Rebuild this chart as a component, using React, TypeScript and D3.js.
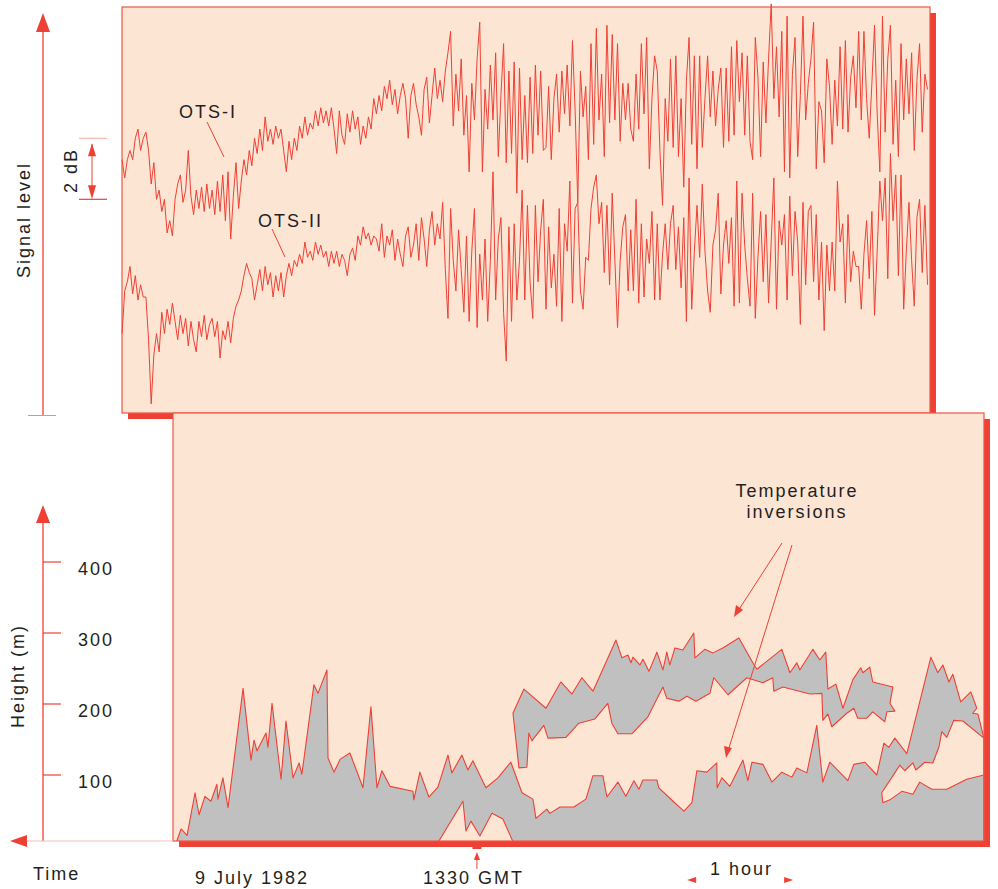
import React from 'react';
import * as d3 from 'd3';

// Time in minutes after midnight, 9 July 1982
const timeDomain: [number, number] = [540, 1105];
const gmtMarkMin = 810; // 13:30 GMT
const hourBracketMin: [number, number] = [929, 989];

// Received signal level (dB) on the two over-the-sea paths, sampled every 1.5 min
const signalStartMin = 609.1;
const signalStepMin = 1.5;
const otsI = [
  8.3, 7.7, 8.3, 8.6, 8.3, 9.0, 9.3, 8.6, 9.0, 9.2, 8.6, 7.5, 8.2, 7.0, 7.3, 6.6, 7.0, 5.9, 6.3, 5.8,
  7.0, 7.5, 7.8, 6.9, 7.3, 8.6, 7.1, 6.5, 7.3, 6.7, 7.4, 6.6, 7.5, 6.7, 7.3, 6.5, 7.6, 6.6, 7.8, 6.3,
  7.9, 5.7, 7.1, 8.2, 6.7, 7.6, 8.3, 7.8, 8.6, 8.1, 9.0, 8.5, 9.3, 8.6, 9.7, 8.9, 9.3, 8.8, 9.4, 9.0,
  9.3, 8.6, 7.9, 8.9, 8.3, 9.0, 8.6, 9.4, 9.0, 9.7, 9.1, 9.5, 9.3, 9.9, 9.4, 10.0, 9.5, 9.9, 9.4, 10.0,
  9.3, 8.5, 9.9, 9.1, 8.8, 9.8, 9.2, 9.9, 9.3, 9.7, 8.8, 9.4, 9.0, 9.7, 9.3, 10.3, 9.8, 10.4, 9.9, 10.7,
  10.3, 10.9, 10.1, 10.6, 9.8, 10.4, 10.8, 10.3, 9.0, 10.4, 10.8, 10.1, 9.7, 9.1, 10.6, 11.0, 9.5, 10.4, 11.3, 10.3,
  10.9, 10.2, 11.2, 11.8, 12.5, 9.4, 11.1, 9.9, 11.6, 9.1, 10.4, 7.9, 10.8, 9.6, 11.6, 12.8, 7.9, 10.6, 9.3, 11.4,
  9.6, 11.8, 8.4, 10.4, 12.1, 8.2, 11.2, 8.5, 11.5, 7.2, 11.3, 8.3, 10.4, 8.2, 11.0, 8.5, 11.4, 9.1, 11.2, 8.6,
  8.7, 10.7, 8.3, 10.3, 11.1, 9.2, 11.2, 9.8, 11.4, 9.4, 12.2, 9.9, 6.9, 11.2, 9.7, 10.7, 8.3, 12.1, 8.8, 12.6,
  9.6, 11.1, 8.4, 12.7, 9.5, 12.4, 9.6, 12.1, 8.9, 10.8, 9.6, 10.8, 9.3, 8.9, 11.1, 9.3, 12.1, 9.8, 12.3, 8.0,
  10.3, 11.7, 11.2, 8.6, 6.8, 10.3, 8.9, 11.6, 8.7, 11.7, 8.4, 10.3, 7.4, 10.9, 12.3, 8.8, 11.7, 8.0, 11.7, 8.7,
  10.3, 11.7, 9.7, 11.2, 9.4, 10.6, 11.3, 8.7, 11.3, 8.9, 12.0, 9.1, 12.2, 10.2, 11.8, 9.1, 11.7, 8.9, 8.3, 12.3,
  11.0, 8.4, 11.5, 9.5, 11.6, 13.4, 10.3, 12.0, 9.7, 12.5, 7.9, 13.0, 7.7, 11.1, 12.3, 8.4, 10.4, 13.0, 9.6, 10.8,
  11.6, 12.8, 8.0, 10.2, 9.9, 8.2, 11.6, 10.7, 8.8, 10.9, 9.4, 12.0, 9.3, 12.2, 9.2, 11.0, 11.7, 10.0, 12.5, 9.6,
  12.5, 10.3, 9.0, 10.8, 12.7, 9.8, 7.9, 13.0, 9.2, 11.6, 12.7, 8.8, 10.9, 8.4, 12.1, 9.6, 11.6, 9.8, 11.8, 8.6,
  10.9, 12.1, 9.2, 11.1, 10.6,
];
const otsII = [
  2.6, 4.0, 4.3, 4.8, 3.9, 4.5, 3.7, 4.2, 3.8, 3.8, 2.4, 0.3, 1.9, 2.6, 2.0, 3.3, 2.6, 3.4, 2.9, 3.6,
  3.0, 2.4, 3.2, 2.6, 3.1, 2.2, 3.0, 2.4, 2.0, 3.0, 2.5, 3.2, 2.4, 2.9, 3.1, 2.5, 3.0, 1.8, 2.7, 2.4,
  3.0, 2.3, 3.1, 3.5, 3.7, 4.0, 4.5, 4.9, 4.6, 4.4, 3.7, 4.2, 4.7, 4.0, 4.8, 4.2, 4.6, 3.8, 4.5, 4.0,
  4.6, 3.8, 4.5, 4.9, 4.5, 5.0, 4.8, 5.2, 4.9, 5.6, 5.1, 5.3, 5.0, 5.6, 5.2, 5.5, 5.1, 5.3, 4.8, 5.3,
  4.9, 5.3, 4.8, 5.2, 5.0, 4.5, 5.2, 5.4, 5.0, 5.8, 5.5, 6.1, 5.7, 5.9, 5.5, 5.8, 5.7, 5.3, 6.2, 5.1,
  5.8, 5.5, 6.0, 5.0, 5.7, 5.2, 4.8, 5.8, 6.1, 5.1, 5.5, 6.2, 5.0, 6.4, 5.7, 4.8, 6.0, 6.6, 5.5, 6.2,
  5.7, 6.9, 4.7, 3.1, 6.7, 5.0, 4.0, 6.0, 4.7, 3.3, 5.8, 3.0, 5.3, 6.7, 2.8, 5.2, 3.7, 5.7, 3.0, 5.0,
  7.9, 3.7, 5.7, 6.4, 3.3, 1.7, 6.1, 3.0, 6.2, 3.7, 5.0, 7.3, 3.7, 6.8, 4.3, 3.1, 6.8, 4.3, 6.0, 7.0,
  3.4, 6.1, 4.1, 5.2, 3.5, 6.7, 3.0, 6.2, 5.3, 7.6, 3.6, 6.7, 6.9, 4.0, 3.4, 5.1, 5.0, 6.7, 7.4, 7.8,
  6.2, 6.9, 4.6, 6.8, 4.2, 7.2, 5.0, 2.8, 5.0, 6.1, 6.5, 4.0, 6.0, 4.0, 7.0, 3.6, 6.2, 3.8, 5.7, 4.9,
  6.6, 3.7, 6.2, 3.7, 5.2, 6.2, 4.7, 6.2, 6.8, 4.7, 6.1, 4.1, 6.4, 3.0, 7.7, 3.4, 5.3, 6.8, 5.1, 7.5,
  5.3, 4.0, 3.3, 5.5, 6.0, 7.2, 3.9, 5.5, 6.3, 4.9, 6.4, 3.5, 7.6, 3.6, 7.2, 5.5, 4.4, 3.5, 7.2, 3.1,
  5.1, 6.6, 4.3, 6.5, 3.6, 5.6, 7.7, 3.4, 6.3, 5.5, 6.5, 3.7, 7.1, 4.5, 6.6, 5.6, 2.9, 6.9, 4.2, 6.6,
  6.8, 4.3, 6.5, 3.7, 5.6, 2.7, 5.5, 4.0, 5.6, 4.0, 7.6, 5.6, 6.2, 3.6, 6.5, 4.3, 5.3, 4.8, 4.8, 3.4,
  5.2, 6.3, 4.4, 6.6, 3.2, 5.3, 7.6, 6.3, 7.7, 4.4, 8.5, 6.3, 7.8, 4.5, 7.8, 3.4, 5.3, 6.9, 5.0, 3.5,
  6.4, 7.0, 4.6, 6.8, 4.2,
];
const signalDomain: [number, number] = [0, 13.3];
const dbBracket: [number, number] = [7, 9];

// Temperature inversion layers: [minutes, height in metres]
const groundTop: [number, number][] = [
  [639.1, 0], [642.5, 24], [645.9, 15], [650.4, 75], [652.7, 44], [656.0, 70], [659.4, 63], [662.8, 87],
  [663.4, 66], [666.2, 96], [669.1, 54], [677.6, 222], [682.1, 121], [683.8, 149], [685.5, 134], [690.6, 159],
  [691.7, 139], [694.0, 201], [699.1, 94], [701.9, 176], [705.9, 96], [709.3, 117], [710.9, 101], [717.7, 227],
  [720.0, 215], [725.1, 248], [725.7, 124], [729.1, 104], [732.5, 122], [738.1, 131], [745.5, 82], [750.0, 196],
  [753.4, 82], [756.2, 106], [760.8, 84], [773.8, 77], [774.3, 65], [777.7, 104], [782.8, 69], [787.9, 83],
  [793.6, 128], [795.8, 103], [801.5, 128], [804.9, 107], [807.7, 120], [815.1, 82], [821.9, 96], [829.2, 118],
  [835.5, 75], [841.7, 66], [843.4, 39], [849.6, 52], [851.3, 46], [857.0, 55], [864.9, 55], [871.7, 66],
  [875.7, 99], [881.3, 99], [883.6, 69], [889.8, 90], [894.3, 70], [898.9, 92], [901.7, 80], [904.0, 93],
  [911.9, 93], [913.0, 82], [921.5, 62], [927.2, 49], [931.7, 61], [934.5, 106], [940.2, 104], [945.8, 117],
  [946.0, 82], [948.7, 96], [953.2, 84], [960.6, 121], [963.4, 92], [965.7, 118], [971.9, 115], [977.0, 90],
  [982.6, 104], [988.3, 97], [991.1, 110], [996.8, 103], [1002.4, 170], [1005.8, 90], [1009.8, 118], [1020.0, 92],
  [1023.4, 115], [1029.6, 118], [1036.4, 100], [1040.4, 145], [1043.2, 139], [1046.6, 152], [1053.4, 130],
  [1067.0, 266], [1070.9, 244], [1073.8, 255], [1077.2, 231], [1079.4, 242], [1083.9, 203], [1089.6, 217],
  [1093.0, 194], [1090.7, 187], [1093.6, 186], [1097.0, 152],
];
const groundEnd: [number, number][] = [[1097.0, 0], [639.1, 0]];
const liftedBase: [number, number][] = [
  [786.8, 0], [802.1, 63], [803.8, 21], [806.6, 35], [811.7, 14], [818.5, 46], [824.7, 38], [831.5, 0],
];
const rightLayerBase: [number, number][] = [
  [1039.2, 75], [1046.6, 103], [1049.4, 114], [1052.2, 106], [1056.8, 117], [1058.5, 107], [1063.6, 118],
  [1068.1, 117], [1071.5, 139], [1073.2, 161], [1076.0, 153], [1080.0, 177], [1085.1, 176], [1097.0, 152],
];
const rightGroundTop: [number, number][] = [
  [1039.2, 75], [1039.8, 61], [1043.8, 65], [1050.6, 77], [1056.8, 73], [1060.7, 90], [1067.5, 80],
  [1076.0, 80], [1087.3, 94], [1097.0, 100],
];
const upperTop: [number, number][] = [
  [830.4, 187], [836.6, 221], [849.1, 194], [857.5, 231], [863.8, 214], [869.4, 237], [875.7, 218], [888.7, 290],
  [892.1, 265], [895.5, 269], [897.2, 258], [898.3, 266], [902.3, 255], [904.0, 263], [907.4, 246], [911.9, 273],
  [915.3, 248], [917.5, 273], [919.2, 255], [922.1, 279], [926.6, 276], [932.8, 300], [933.4, 265], [939.0, 277],
  [943.6, 272], [949.2, 279], [958.3, 293], [966.2, 258], [968.5, 249], [982.6, 277], [987.2, 244], [991.1, 258],
  [992.8, 248], [1000.2, 277], [1004.1, 262], [1007.5, 273], [1008.7, 221], [1013.2, 228], [1017.2, 194],
  [1022.8, 234], [1027.3, 251], [1028.5, 244], [1032.4, 252], [1034.1, 231], [1045.5, 224], [1043.8, 201],
  [1046.6, 190],
];
const upperBase: [number, number][] = [
  [830.4, 187], [833.8, 110], [838.3, 111], [839.4, 159], [841.1, 148], [847.9, 170], [850.2, 152], [860.4, 153],
  [867.7, 173], [876.8, 179], [884.1, 201], [886.4, 173], [889.8, 158], [897.7, 158], [906.8, 182], [915.3, 224],
  [917.5, 208], [924.3, 204], [928.9, 211], [934.0, 204], [941.9, 215], [944.1, 237], [952.1, 213], [962.8, 237],
  [971.9, 230], [977.5, 237], [978.1, 218], [983.2, 224], [998.5, 214], [1005.3, 215], [1005.8, 177], [1008.7, 186],
  [1010.9, 168], [1019.4, 187], [1023.4, 194], [1025.6, 180], [1030.7, 180], [1034.1, 189], [1040.9, 175],
  [1042.1, 189], [1046.6, 190],
];
const heightTicks = [100, 200, 300, 400];
const heightDomain: [number, number] = [0, 400];

const RED = '#ee4034';
const EDGE = '#ef5645';
const PEACH = '#fde5d4';
const GRAY = '#c0c0c0';
const INK = '#231f20';
const FONT = "'Liberation Sans', Arial, Helvetica, sans-serif";

export default function App() {
  const x = d3.scaleLinear().domain(timeDomain).range([0, 998]);
  const ySig = d3.scaleLinear().domain(signalDomain).range([413, 7]);
  const yH = d3.scaleLinear().domain(heightDomain).range([846, 562]);

  const sigLine = d3
    .line<number>()
    .x((_, i) => x(signalStartMin + i * signalStepMin))
    .y((d) => ySig(d));
  const hLine = d3
    .line<[number, number]>()
    .x((d) => x(d[0]))
    .y((d) => yH(d[1]));
  const poly = (pts: [number, number][]) => (hLine(pts) || '') + 'Z';

  const groundPoly = poly([...groundTop, ...groundEnd]);
  const liftedPoly = poly(liftedBase);
  const rightGapPoly = poly([...rightLayerBase, ...rightGroundTop.slice().reverse()]);
  const upperPoly = poly([...upperTop, ...upperBase.slice().reverse()]);

  const textStyle = { letterSpacing: '2px' } as React.CSSProperties;
  const gx = x(gmtMarkMin);
  const hx0 = x(hourBracketMin[0]);
  const hx1 = x(hourBracketMin[1]);
  const b0 = ySig(dbBracket[1]);
  const b1 = ySig(dbBracket[0]);

  return (
    <svg
      width={998}
      height={889}
      style={{ position: 'absolute', left: 0, top: 0, background: '#fff' }}
      fontFamily={FONT}
    >
      <defs>
        <clipPath id="lowerPanelClip">
          <rect x={173} y={413} width={811} height={428} />
        </clipPath>
      </defs>

      {/* Signal level panel */}
      <rect x={128} y={13} width={808} height={406} fill={RED} />
      <rect x={122} y={7} width={808} height={406} fill={PEACH} stroke={EDGE} strokeWidth={1.2} />
      <path d={sigLine(otsI) || ''} fill="none" stroke={RED} strokeWidth={1} strokeLinejoin="round" />
      <path d={sigLine(otsII) || ''} fill="none" stroke={RED} strokeWidth={1} strokeLinejoin="round" />
      <text x={179} y={118} fontSize={18} fill={INK} style={textStyle}>OTS-I</text>
      <line x1={207} y1={122} x2={224} y2={157} stroke={RED} strokeWidth={1} />
      <text x={258} y={227} fontSize={18} fill={INK} style={textStyle}>OTS-II</text>
      <line x1={272} y1={229} x2={285} y2={257} stroke={RED} strokeWidth={1} />

      {/* Height panel */}
      <rect x={179} y={419} width={811} height={428} fill={RED} />
      <rect x={173} y={413} width={811} height={428} fill={PEACH} />
      <g clipPath="url(#lowerPanelClip)" strokeLinejoin="round">
        <path d={groundPoly} fill={GRAY} stroke={RED} strokeWidth={1.1} />
        <path d={liftedPoly} fill={PEACH} stroke={RED} strokeWidth={1.1} />
        <path d={rightGapPoly} fill={PEACH} stroke={RED} strokeWidth={1.1} />
        <path d={upperPoly} fill={GRAY} stroke={RED} strokeWidth={1.1} />
      </g>
      <rect x={173} y={413} width={811} height={428} fill="none" stroke={EDGE} strokeWidth={1.2} />

      <text x={797} y={497} fontSize={18} fill={INK} textAnchor="middle" style={textStyle}>Temperature</text>
      <text x={797} y={518} fontSize={18} fill={INK} textAnchor="middle" style={textStyle}>inversions</text>
      <line x1={782} y1={543} x2={738} y2={611} stroke={RED} strokeWidth={1} />
      <path d="M734,617 L736,605 L743,610 Z" fill={RED} />
      <line x1={792} y1={545} x2={728} y2={751} stroke={RED} strokeWidth={1} />
      <path d="M726,758 L724,746 L732,748 Z" fill={RED} />

      {/* Signal axis */}
      <line x1={43} y1={30} x2={43} y2={415} stroke={RED} strokeWidth={1.3} />
      <path d="M43,13 L36,32 L50,32 Z" fill={RED} />
      <line x1={28} y1={415.5} x2={56} y2={415.5} stroke="#f28a7c" strokeWidth={1} />
      <text transform="translate(30,278) rotate(-90)" fontSize={18} fill={INK} style={textStyle}>Signal level</text>

      {/* 2 dB scale bar */}
      <line x1={79} y1={b0} x2={107} y2={b0} stroke="#f6a89c" strokeWidth={1} />
      <line x1={79} y1={b1} x2={107} y2={b1} stroke={RED} strokeWidth={1.2} />
      <line x1={92} y1={b0 + 6} x2={92} y2={b1 - 6} stroke={RED} strokeWidth={1} />
      <path d={`M92,${b0 + 5} L88,${b0 + 18} L96,${b0 + 18} Z`} fill={RED} />
      <path d={`M92,${b1} L88,${b1 - 14} L96,${b1 - 14} Z`} fill={RED} />
      <text transform="translate(77,193) rotate(-90)" fontSize={18} fill={INK} style={textStyle}>2 dB</text>

      {/* Height axis */}
      <line x1={43} y1={521} x2={43} y2={841} stroke={RED} strokeWidth={1.3} />
      <path d="M43,505 L36,523 L50,523 Z" fill={RED} />
      {heightTicks.map((v) => (
        <g key={v}>
          <line x1={43} y1={yH(v)} x2={61} y2={yH(v)} stroke={RED} strokeWidth={1.2} />
          <text x={78} y={yH(v) + 13} fontSize={18} fill={INK} style={textStyle}>{v}</text>
        </g>
      ))}
      <text transform="translate(24,728) rotate(-90)" fontSize={18} fill={INK} style={textStyle}>Height (m)</text>

      {/* Time axis */}
      <line x1={26} y1={841} x2={173} y2={841} stroke="#f6c2b8" strokeWidth={1.2} />
      <path d="M10,841 L27,835 L27,847 Z" fill={RED} />
      <rect x={gx - 4.5} y={845} width={9} height={4} fill={RED} />
      <line x1={gx} y1={869} x2={gx} y2={858} stroke={RED} strokeWidth={1} />
      <path d={`M${gx},852 L${gx - 3},860 L${gx + 3},860 Z`} fill={RED} />
      <text x={33} y={880} fontSize={18} fill={INK} style={textStyle}>Time</text>
      <text x={195} y={884} fontSize={18} fill={INK} style={textStyle}>9 July 1982</text>
      <text x={423} y={884} fontSize={18} fill={INK} style={textStyle}>1330 GMT</text>
      <text x={710} y={875} fontSize={18} fill={INK} style={textStyle}>1 hour</text>
      <path d={`M${hx0},880 L${hx0 + 9},877 L${hx0 + 9},883 Z`} fill={RED} />
      <path d={`M${hx1},880 L${hx1 - 9},877 L${hx1 - 9},883 Z`} fill={RED} />
    </svg>
  );
}
